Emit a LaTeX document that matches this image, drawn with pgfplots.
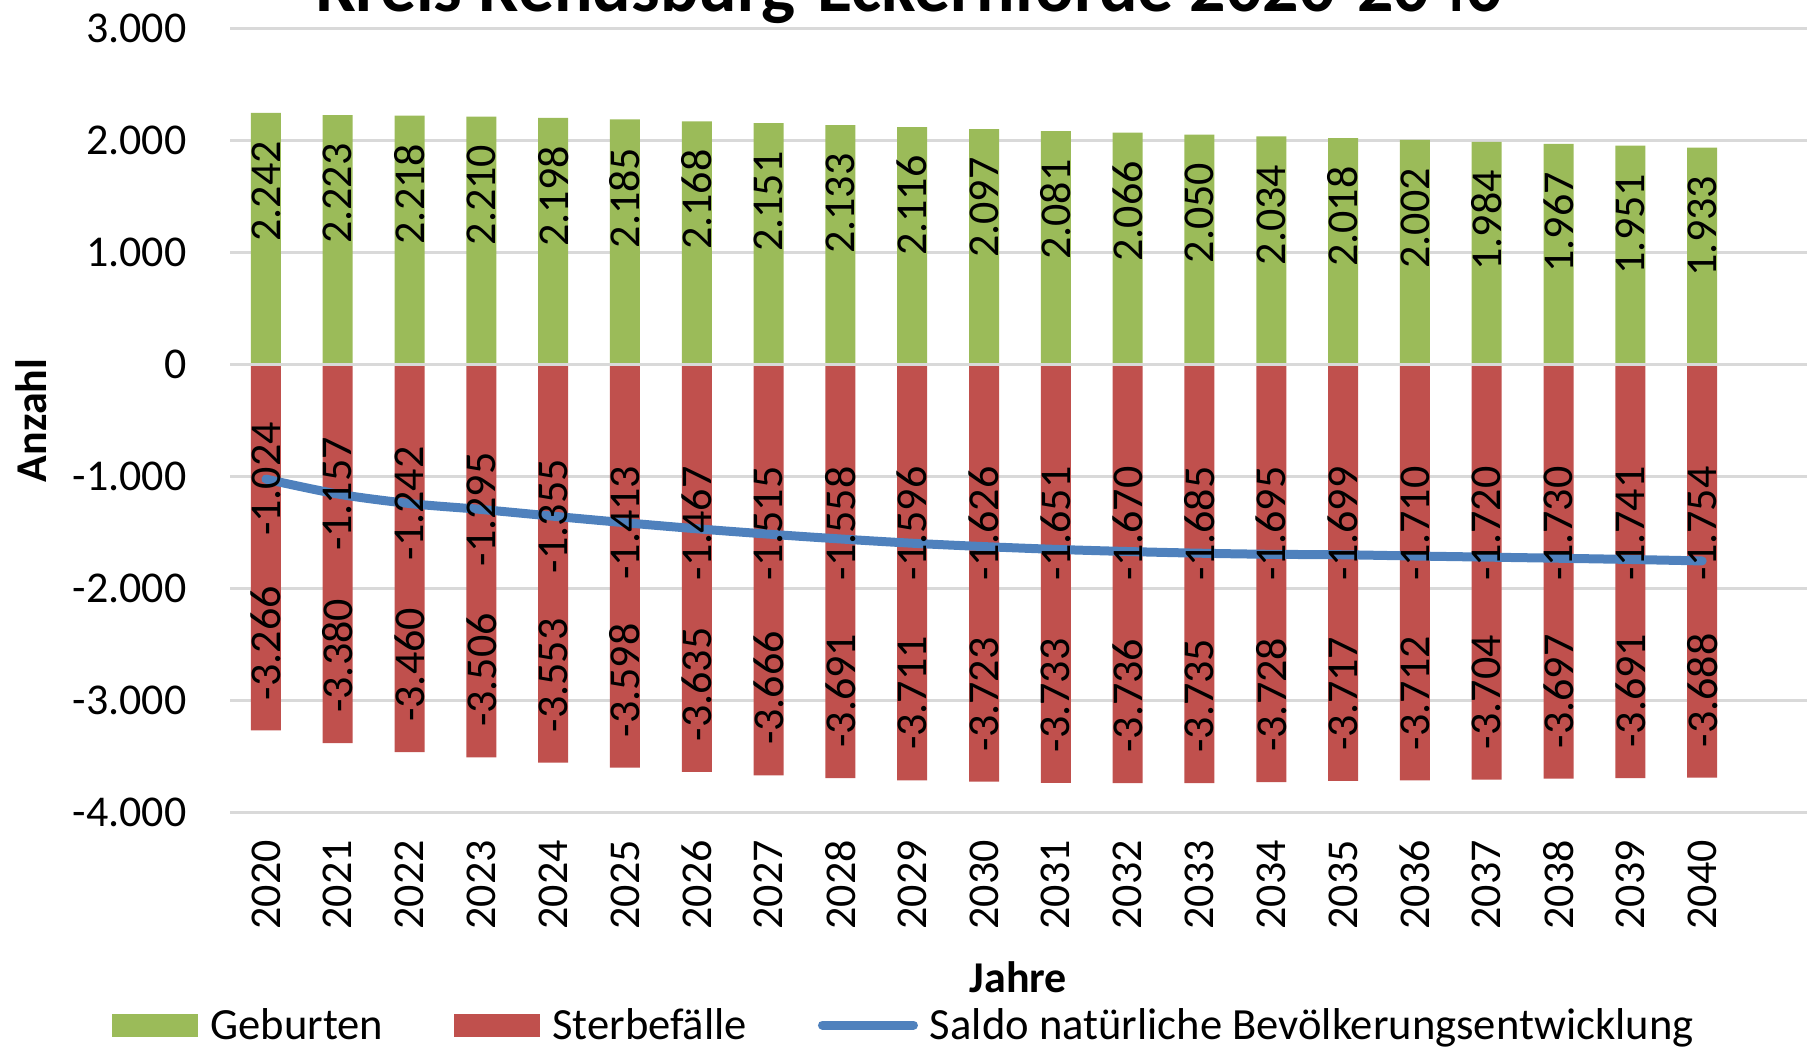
\documentclass[border=0pt]{standalone}
\usepackage{fontspec}
\setmainfont{Carlito}
\usepackage{pgfplots}
\usepackage{pgfplotstable}
\pgfplotsset{compat=1.18}
\definecolor{geb}{HTML}{9BBB59}
\definecolor{ster}{HTML}{C0504D}
\definecolor{saldo}{HTML}{4F81BD}
\definecolor{gridc}{HTML}{D9D9D9}
\newcommand\F{\fontsize{22pt}{26pt}\selectfont}

\pgfplotstableread{
x geb ster saldo
0 2242 -3266 -1024
1 2223 -3380 -1157
2 2218 -3460 -1242
3 2210 -3506 -1295
4 2198 -3553 -1355
5 2185 -3598 -1413
6 2168 -3635 -1467
7 2151 -3666 -1515
8 2133 -3691 -1558
9 2116 -3711 -1596
10 2097 -3723 -1626
11 2081 -3733 -1651
12 2066 -3736 -1670
13 2050 -3735 -1685
14 2034 -3728 -1695
15 2018 -3717 -1699
16 2002 -3712 -1710
17 1984 -3704 -1720
18 1967 -3697 -1730
19 1951 -3691 -1741
20 1933 -3688 -1754
}\data

\begin{document}
\begin{tikzpicture}[x=1pt,y=1pt]
\useasboundingbox (0,0) rectangle (903.5,-523.5);
\node[font=\fontsize{35.9pt}{40pt}\selectfont\bfseries, anchor=base] at (455,-6) {Kreis Rendsburg-Eckernförde 2020-2040};
\begin{axis}[
  at={(115pt,-406.35pt)}, anchor=south west,
  scale only axis, width=788.5pt, height=392.35pt,
  xmin=-0.5, xmax=21.46, ymin=-4000, ymax=3000,
  xtick={0,...,20},
  xticklabels={2020,2021,2022,2023,2024,2025,2026,2027,2028,2029,2030,2031,2032,2033,2034,2035,2036,2037,2038,2039,2040},
  ytick={-4000,-3000,-2000,-1000,0,1000,2000,3000},
  ymajorgrids, grid style={gridc, line width=1.5pt},
  axis line style={draw=none}, major tick length=0pt,
  tick label style={font=\F, black},
  /pgf/number format/1000 sep={.},
  /pgf/number format/assume math mode=true,
  xticklabel style={rotate=90, anchor=east, inner sep=0pt},
  xticklabel shift=13.5pt,
  yticklabel style={anchor=east, inner sep=0pt},
  yticklabel shift=21.5pt,
  xlabel={Jahre}, ylabel={Anzahl},
  every axis x label/.style={at={(axis description cs:0.5,-0.2094)}, anchor=center, font=\F\bfseries},
  every axis y label/.style={at={(axis description cs:-0.1262,0.5)}, rotate=90, anchor=center, font=\F\bfseries},
  legend columns=3,
  legend style={at={(axis description cs:-0.0748,-0.2706)}, anchor=west, draw=none, fill=none, inner sep=0pt,
    font=\fontsize{22.3pt}{26pt}\selectfont,
    nodes={inner sep=0pt}, column sep=6pt,
    /tikz/every even column/.append style={column sep=35.5pt}},
  legend cell align=left,
]
\addplot[ybar, bar width=15pt, bar shift=0pt, fill=geb, draw=none,
  legend image code/.code={\fill[geb] (0pt,-5.75pt) rectangle (43pt,5.75pt);},
  point meta=y, nodes near coords={\pgfmathprintnumber[fixed,precision=0,1000 sep={.}]{\pgfplotspointmeta}},
  nodes near coords align={east},
  every node near coord/.append style={rotate=90, anchor=east, inner sep=0pt, inner xsep=14pt, font=\F, text=black}]
  table[x=x,y=geb]{\data};
\addlegendentry{Geburten}
\addplot[ybar, bar width=15pt, bar shift=0pt, fill=ster, draw=none,
  legend image code/.code={\fill[ster] (0pt,-5.75pt) rectangle (43pt,5.75pt);},
  point meta=y, nodes near coords={\pgfmathprintnumber[fixed,precision=0,1000 sep={.}]{\pgfplotspointmeta}},
  nodes near coords align={west},
  every node near coord/.append style={rotate=90, anchor=west, inner sep=0pt, inner xsep=15pt, font=\F, text=black}]
  table[x=x,y=ster]{\data};
\addlegendentry{Sterbefälle}
\draw[gridc, line width=1.5pt] (axis cs:-0.5,0) -- (axis cs:21.46,0);
\addplot[saldo, line width=4.5pt, line cap=round, smooth, mark=none,
  legend image code/.code={\draw[saldo, line width=4.5pt, line cap=round] (0pt,0pt) -- (45.5pt,0pt);},
  point meta=y, visualization depends on={rawy \as \ry},
  nodes near coords={\pgfmathprintnumber[fixed,precision=0,1000 sep={.}]{\pgfplotspointmeta}},
  nodes near coords align={center},
  every node near coord/.append style={yshift={(max(\ry,-1420)-\ry)*0.05625}, rotate=90, anchor=center, inner sep=0pt, font=\F, text=black}]
  table[x=x,y=saldo]{\data};
\addlegendentry{Saldo natürliche Bevölkerungsentwicklung}
\end{axis}
\end{tikzpicture}
\end{document}
